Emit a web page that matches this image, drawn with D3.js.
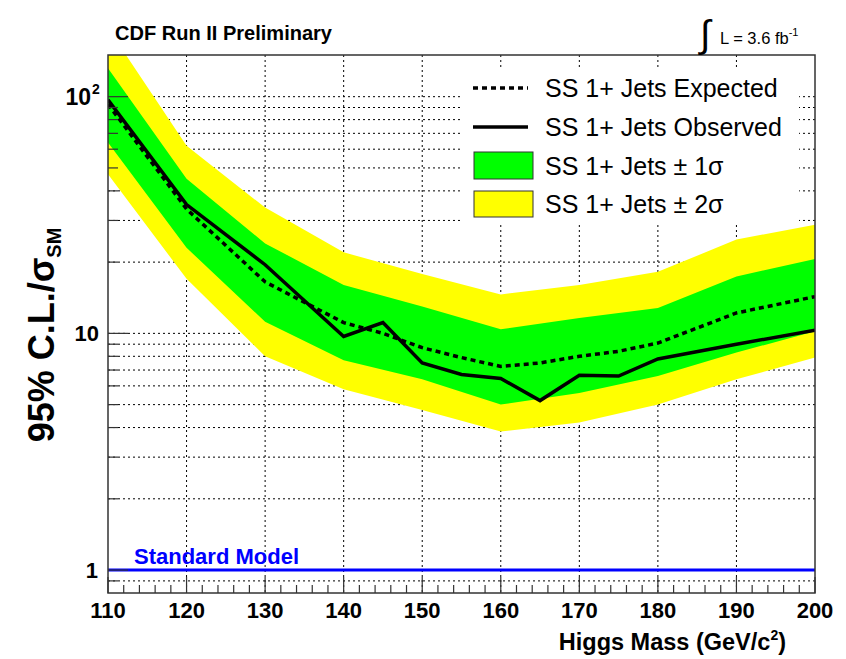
<!DOCTYPE html>
<html><head><meta charset="utf-8">
<script src="https://cdn.jsdelivr.net/npm/d3@7"></script>
<style>
body{margin:0;background:#fff;}
text{font-family:"Liberation Sans",Arial,Helvetica,sans-serif;}
</style></head>
<body><svg id="c" width="846" height="659"></svg>
<script>
// ---- data ----
const masses   = [110,120,130,140,145,150,155,160,165,170,175,180,190,200];
const observed = [97, 35, 19.5, 9.7, 11.1, 7.5, 6.7, 6.45, 5.2, 6.65, 6.6, 7.8, 9.0, 10.3];
const expected = [93, 33.5, 16.5, 11.1, 10.0, 8.7, 7.9, 7.25, 7.5, 8.0, 8.4, 9.1, 12.2, 14.3];
const bandMasses = [110,120,130,140,150,160,170,180,190,200];
const yellowUp = [195, 62, 34, 22, 17.8, 14.6, 16, 18.2, 24.9, 28.8];
const greenUp  = [132, 45, 24, 16, 13, 10.4, 11.6, 12.8, 17.4, 20.6];
const greenLo  = [64, 23, 11.2, 7.7, 6.4, 5.0, 5.6, 6.6, 8.3, 10.2];
const yellowLo = [47, 17, 8, 5.8, 4.75, 3.85, 4.2, 5.0, 6.4, 7.9];
const xTicks = [110,120,130,140,150,160,170,180,190,200];
const legendLabels = ["SS 1+ Jets Expected","SS 1+ Jets Observed","SS 1+ Jets \u00b1 1\u03c3","SS 1+ Jets \u00b1 2\u03c3"];
const smLevel = 1;

const L=108,R=815,T=55,B=593;
const svg=d3.select("#c");
const x=d3.scaleLinear().domain([110,200]).range([L,R]);
const y=d3.scaleLog().domain([0.8,150]).range([B,T]);

svg.append("defs").append("clipPath").attr("id","pc").append("rect")
  .attr("x",L).attr("y",T).attr("width",R-L).attr("height",B-T);

// grid
const grid=svg.append("g").attr("stroke","#000").attr("stroke-width",1).attr("stroke-dasharray","2,3");
xTicks.slice(1,-1).forEach(t=>grid.append("line").attr("x1",x(t)).attr("x2",x(t)).attr("y1",T).attr("y2",B));
const yGrid=[];
[0.9].concat(d3.range(1,10),d3.range(10,100,10),[100]).forEach(v=>yGrid.push(v));
yGrid.forEach(v=>grid.append("line").attr("x1",L).attr("x2",R).attr("y1",y(v)).attr("y2",y(v)));

// bands
const pg=svg.append("g").attr("clip-path","url(#pc)");
function band(up,lo,col){
  const a=d3.area().x((d,i)=>x(bandMasses[i])).y0((d,i)=>y(lo[i])).y1((d,i)=>y(up[i]));
  pg.append("path").attr("d",a(bandMasses)).attr("fill",col);
}
band(yellowUp,yellowLo,"#ffff00");
band(greenUp,greenLo,"#00ff00");

// legend box
svg.append("rect").attr("x",461).attr("y",67).attr("width",338).attr("height",157).attr("fill","#fff");

// lines
const ln=(vals)=>d3.line().x((d,i)=>x(masses[i])).y((d,i)=>y(vals[i]));
pg.append("path").attr("d",ln(expected)(masses)).attr("fill","none").attr("stroke","#000")
  .attr("stroke-width",3.5).attr("stroke-dasharray","5,4");
pg.append("path").attr("d",ln(observed)(masses)).attr("fill","none").attr("stroke","#000")
  .attr("stroke-width",3.5).attr("stroke-linejoin","miter");

// SM line
svg.append("line").attr("x1",L).attr("x2",R).attr("y1",y(smLevel)).attr("y2",y(smLevel))
  .attr("stroke","#0000ff").attr("stroke-width",3);
svg.append("text").attr("x",134).attr("y",564).attr("fill","#0000ff").attr("font-weight","bold")
  .attr("font-size",22).text("Standard Model");

// frame
svg.append("rect").attr("x",L).attr("y",T).attr("width",R-L).attr("height",B-T)
  .attr("fill","none").attr("stroke","#333").attr("stroke-width",1.5);

// x ticks
const tk=svg.append("g").attr("stroke","#333").attr("stroke-width",1.2);
d3.range(110,201,2).forEach(m=>{
  const len=(m%10===0)?16:8;
  tk.append("line").attr("x1",x(m)).attr("x2",x(m)).attr("y1",B).attr("y2",B-len);
});
// y ticks
yGrid.forEach(v=>{
  const major=(v===1||v===10||v===100);
  tk.append("line").attr("x1",L).attr("x2",L+(major?20:10)).attr("y1",y(v)).attr("y2",y(v));
});

// x tick labels
svg.append("g").selectAll("text").data(xTicks).join("text")
  .attr("x",d=>x(d)).attr("y",618).attr("text-anchor","middle").attr("font-weight","bold")
  .attr("font-size",22).text(d=>d);
// y tick labels
svg.append("text").attr("x",98).attr("y",y(1)+8).attr("text-anchor","end").attr("font-weight","bold").attr("font-size",22).text("1");
svg.append("text").attr("x",99).attr("y",y(10)+8).attr("text-anchor","end").attr("font-weight","bold").attr("font-size",22).text("10");
svg.append("text").attr("x",91).attr("y",y(100)+8).attr("text-anchor","end").attr("font-weight","bold").attr("font-size",23).text("10");
svg.append("text").attr("x",92).attr("y",y(100)-3).attr("font-weight","bold").attr("font-size",14).text("2");

// axis titles
const xt=svg.append("text").attr("x",786).attr("y",650).attr("text-anchor","end").attr("font-weight","bold").attr("font-size",23.5);
xt.append("tspan").text("Higgs Mass (GeV/c");
xt.append("tspan").attr("font-size",14).attr("dy",-10).text("2");
xt.append("tspan").attr("dy",10).text(")");

const yt=svg.append("text").attr("transform","translate(54,335) rotate(-90)").attr("text-anchor","middle")
  .attr("font-weight","bold").attr("font-size",36);
yt.append("tspan").text("95% C.L./\u03c3");
yt.append("tspan").attr("font-size",20).attr("dy",7).text("SM");

// header texts
svg.append("text").attr("x",115).attr("y",40).attr("font-weight","bold").attr("font-size",19.5)
  .attr("textLength",217).attr("lengthAdjust","spacingAndGlyphs").text("CDF Run II Preliminary");
svg.append("text").attr("x",700).attr("y",47).attr("font-family","DejaVu Sans").attr("font-size",38).text("\u222b");
const lt=svg.append("text").attr("x",720).attr("y",44).attr("font-size",16.5);
lt.append("tspan").text("L = 3.6 fb");
lt.append("tspan").attr("font-size",11).attr("dy",-8).text("-1");

// legend
const lg=svg.append("g");
const rowY=[88,127,166,204];
lg.append("line").attr("x1",473).attr("x2",528).attr("y1",rowY[0]).attr("y2",rowY[0])
  .attr("stroke","#000").attr("stroke-width",3.5).attr("stroke-dasharray","5,4");
lg.append("line").attr("x1",473).attr("x2",528).attr("y1",rowY[1]).attr("y2",rowY[1])
  .attr("stroke","#000").attr("stroke-width",3.5);
lg.append("rect").attr("x",474).attr("y",rowY[2]-14).attr("width",59).attr("height",27)
  .attr("fill","#00ff00").attr("stroke","#333").attr("stroke-width",1);
lg.append("rect").attr("x",474).attr("y",rowY[3]-13).attr("width",59).attr("height",26)
  .attr("fill","#ffff00").attr("stroke","#333").attr("stroke-width",1);
legendLabels.forEach((t,i)=>{
  lg.append("text").attr("x",545).attr("y",rowY[i]+8.5).attr("font-size",25).text(t);
});
</script></body></html>
